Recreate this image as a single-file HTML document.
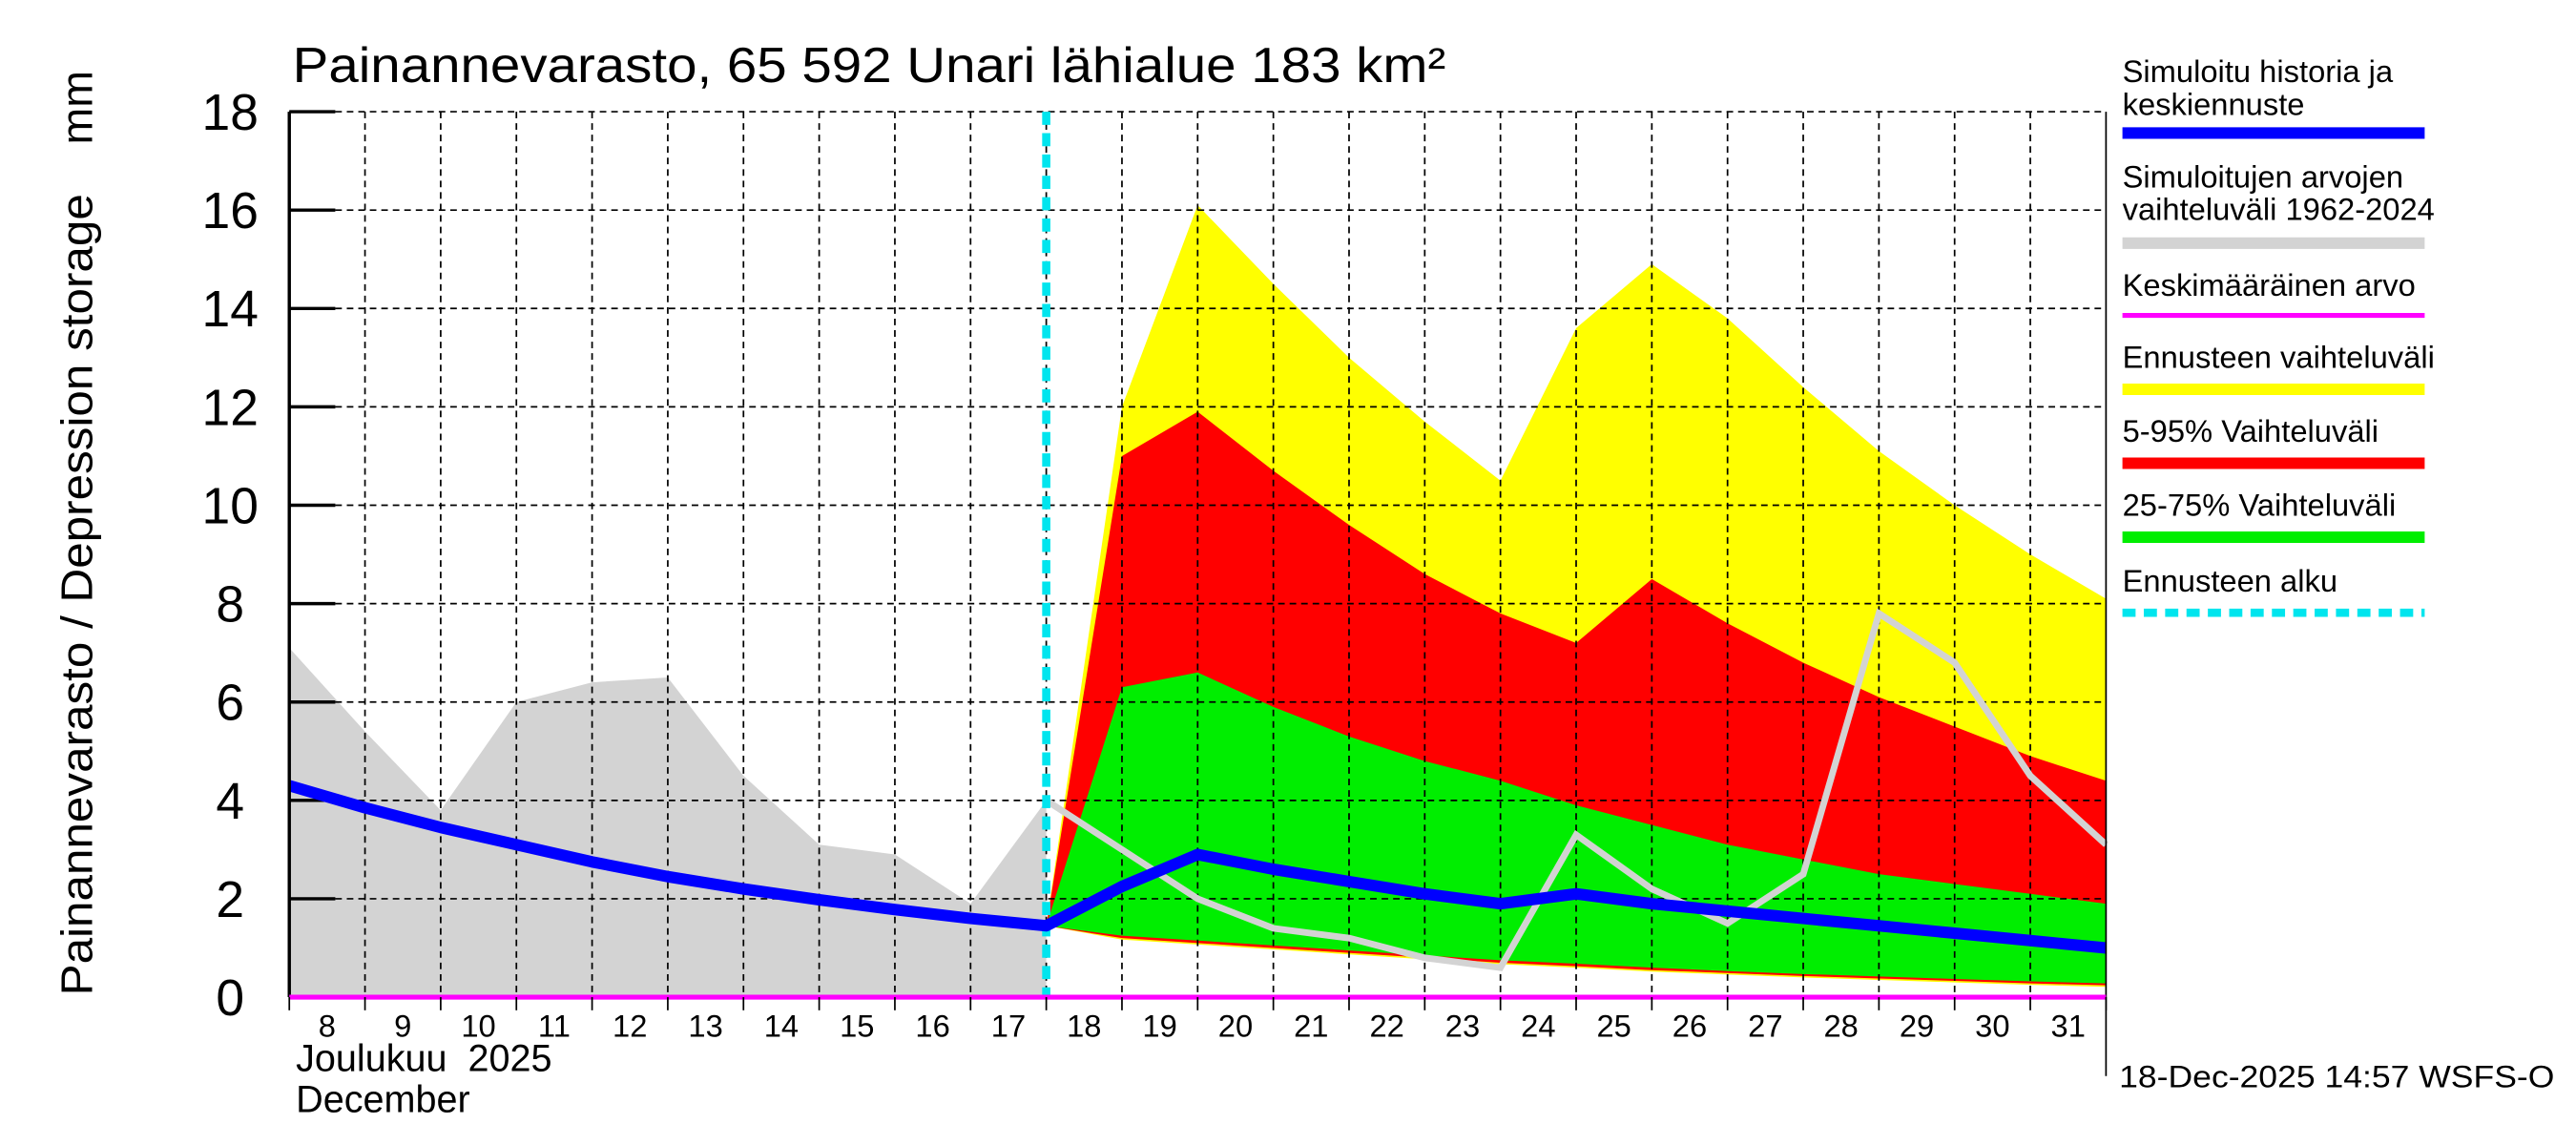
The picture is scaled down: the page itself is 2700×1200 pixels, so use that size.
<!DOCTYPE html>
<html><head><meta charset="utf-8"><style>
html,body{margin:0;padding:0;background:#fff;}
svg{display:block;font-family:"Liberation Sans",sans-serif;}
</style></head><body>
<svg id="chart" width="2700" height="1200" viewBox="0 0 1568 697" xmlns="http://www.w3.org/2000/svg">
<g id="layers"></g>
</svg>
<script>
const dayLabels = ['8','9','10','11','12','13','14','15','16','17','18','19','20','21','22','23','24','25','26','27','28','29','30','31'];
const yTicks = [0,2,4,6,8,10,12,14,16,18];
const histT = [0,1,2,3,4,5,6,7,8,9,10];
const histMax = [7.1,5.4,3.8,6.0,6.4,6.5,4.5,3.1,2.9,1.9,4.0];
const fcT = [10,11,12,13,14,15,16,17,18,19,20,21,22,23,24];
const yelHi = [1.45,12.0,16.1,14.5,13.0,11.7,10.5,13.6,14.9,13.8,12.4,11.1,10.0,9.0,8.1];
const redHi = [1.45,11.0,11.9,10.7,9.6,8.6,7.8,7.2,8.5,7.6,6.8,6.1,5.5,4.9,4.4];
const grnHi = [1.45,6.3,6.6,5.9,5.3,4.8,4.4,3.9,3.5,3.1,2.8,2.5,2.3,2.1,1.9];
const grnLo = [1.45,1.25,1.15,1.05,0.95,0.85,0.75,0.68,0.6,0.53,0.47,0.42,0.37,0.32,0.28];
const redLo = [1.45,1.2,1.1,1.0,0.9,0.8,0.7,0.63,0.55,0.49,0.43,0.38,0.33,0.28,0.24];
const yelLo = [1.45,1.17,1.07,0.97,0.87,0.77,0.67,0.6,0.52,0.46,0.4,0.35,0.3,0.25,0.21];
const grayLine = [4.0,3.0,2.0,1.4,1.2,0.8,0.6,3.3,2.2,1.5,2.5,7.8,6.8,4.5,3.1];
const blueT = [0,1,2,3,4,5,6,7,8,9,10,11,12,13,14,15,16,17,18,19,20,21,22,23,24];
const blueV = [4.3,3.85,3.45,3.1,2.75,2.45,2.2,1.98,1.78,1.6,1.45,2.25,2.9,2.6,2.35,2.1,1.9,2.1,1.9,1.75,1.6,1.45,1.3,1.15,1.0];

const X0=176, X1=1282, Y0=607, YT=68;
const xs = t => X0 + (X1-X0)*t/24;
const ys = v => Y0 - (Y0-YT)*v/18;
const NS='http://www.w3.org/2000/svg';
const g=document.getElementById('layers');
function mk(tag,attrs,parent){const e=document.createElementNS(NS,tag);for(const k in attrs)e.setAttribute(k,attrs[k]);(parent||g).appendChild(e);return e;}
function pts(T,V){return T.map((t,i)=>xs(t)+','+ys(V[i])).join(' ');}
function band(T,hi,lo){return pts(T,hi)+' '+pts(T.slice().reverse(),lo.slice().reverse());}

let e=mk('polygon',{points:pts(histT,histMax)+' '+xs(10)+','+ys(0)+' '+xs(0)+','+ys(0),fill:'#d3d3d3'});


e=mk('polygon',{points:band(fcT,yelHi,yelLo),fill:'#ffff00'});


e=mk('polygon',{points:band(fcT,redHi,redLo),fill:'#ff0000'});


e=mk('polygon',{points:band(fcT,grnHi,grnLo),fill:'#00ee00'});



for(let i=1;i<24;i++){e=mk('line',{x1:xs(i),x2:xs(i),y1:YT,y2:Y0,stroke:'#000','stroke-width':1,'stroke-dasharray':'4,3'});

}
yTicks.forEach(v=>{if(v>0){e=mk('line',{x1:X0,x2:X1,y1:ys(v),y2:ys(v),stroke:'#000','stroke-width':1,'stroke-dasharray':'4,3'});

}
e=mk('line',{x1:X0,x2:X0+28,y1:ys(v),y2:ys(v),stroke:'#000','stroke-width':2});


e=mk('text',{x:140,y:ys(v)+11,'font-size':31,'text-anchor':'middle'});e.textContent=v;

});

e=mk('polyline',{points:pts(fcT,grayLine),fill:'none',stroke:'#d3d3d3','stroke-width':4});


e=mk('line',{x1:xs(10),x2:xs(10),y1:YT,y2:Y0,stroke:'#00e5ee','stroke-width':5,'stroke-dasharray':'8,5'});


e=mk('polyline',{points:pts(blueT,blueV),fill:'none',stroke:'#0000ff','stroke-width':7,'stroke-linejoin':'round'});


e=mk('line',{x1:X0,x2:X0,y1:YT,y2:Y0,stroke:'#000','stroke-width':2});


e=mk('line',{x1:X1,x2:X1,y1:YT,y2:655,stroke:'#000','stroke-width':1});


e=mk('line',{x1:X0,x2:X1,y1:Y0,y2:Y0,stroke:'#ff00ff','stroke-width':3});


for(let i=0;i<=24;i++){e=mk('line',{x1:xs(i),x2:xs(i),y1:Y0,y2:Y0+8,stroke:'#000','stroke-width':1});

}
dayLabels.forEach((d,i)=>{e=mk('text',{x:xs(i+0.5),y:631,'font-size':19,'text-anchor':'middle'});e.textContent=d;

});
</script>
<svg style="position:absolute;left:0;top:0" width="2700" height="1200" viewBox="0 0 1568 697">
<text x="178" y="50" font-size="30" textLength="702" lengthAdjust="spacingAndGlyphs">Painannevarasto, 65 592 Unari lähialue 183 km²</text>
<text transform="translate(56,606) rotate(-90)" font-size="27" textLength="488" lengthAdjust="spacingAndGlyphs">Painannevarasto / Depression storage</text>
<text transform="translate(56,88) rotate(-90)" font-size="27">mm</text>
<text x="180" y="652" font-size="23">Joulukuu&#160; 2025</text>
<text x="180" y="677" font-size="23">December</text>
<text x="1290" y="662" font-size="19" textLength="265" lengthAdjust="spacingAndGlyphs">18-Dec-2025 14:57 WSFS-O</text>
<g font-size="19">
<text x="1292" y="50">Simuloitu historia ja</text><text x="1292" y="70">keskiennuste</text>
<line x1="1292" x2="1476" y1="81" y2="81" stroke="#0000ff" stroke-width="7"/>
<text x="1292" y="114">Simuloitujen arvojen</text><text x="1292" y="134">vaihteluväli 1962-2024</text>
<line x1="1292" x2="1476" y1="148" y2="148" stroke="#d3d3d3" stroke-width="7"/>
<text x="1292" y="180">Keskimääräinen arvo</text>
<line x1="1292" x2="1476" y1="192" y2="192" stroke="#ff00ff" stroke-width="3"/>
<text x="1292" y="224">Ennusteen vaihteluväli</text>
<line x1="1292" x2="1476" y1="237" y2="237" stroke="#ffff00" stroke-width="7"/>
<text x="1292" y="269">5-95% Vaihteluväli</text>
<line x1="1292" x2="1476" y1="282" y2="282" stroke="#ff0000" stroke-width="7"/>
<text x="1292" y="314">25-75% Vaihteluväli</text>
<line x1="1292" x2="1476" y1="327" y2="327" stroke="#00ee00" stroke-width="7"/>
<text x="1292" y="360">Ennusteen alku</text>
<line x1="1292" x2="1476" y1="373" y2="373" stroke="#00e5ee" stroke-width="5" stroke-dasharray="8,5"/>
</g>
</svg>
</body></html>
